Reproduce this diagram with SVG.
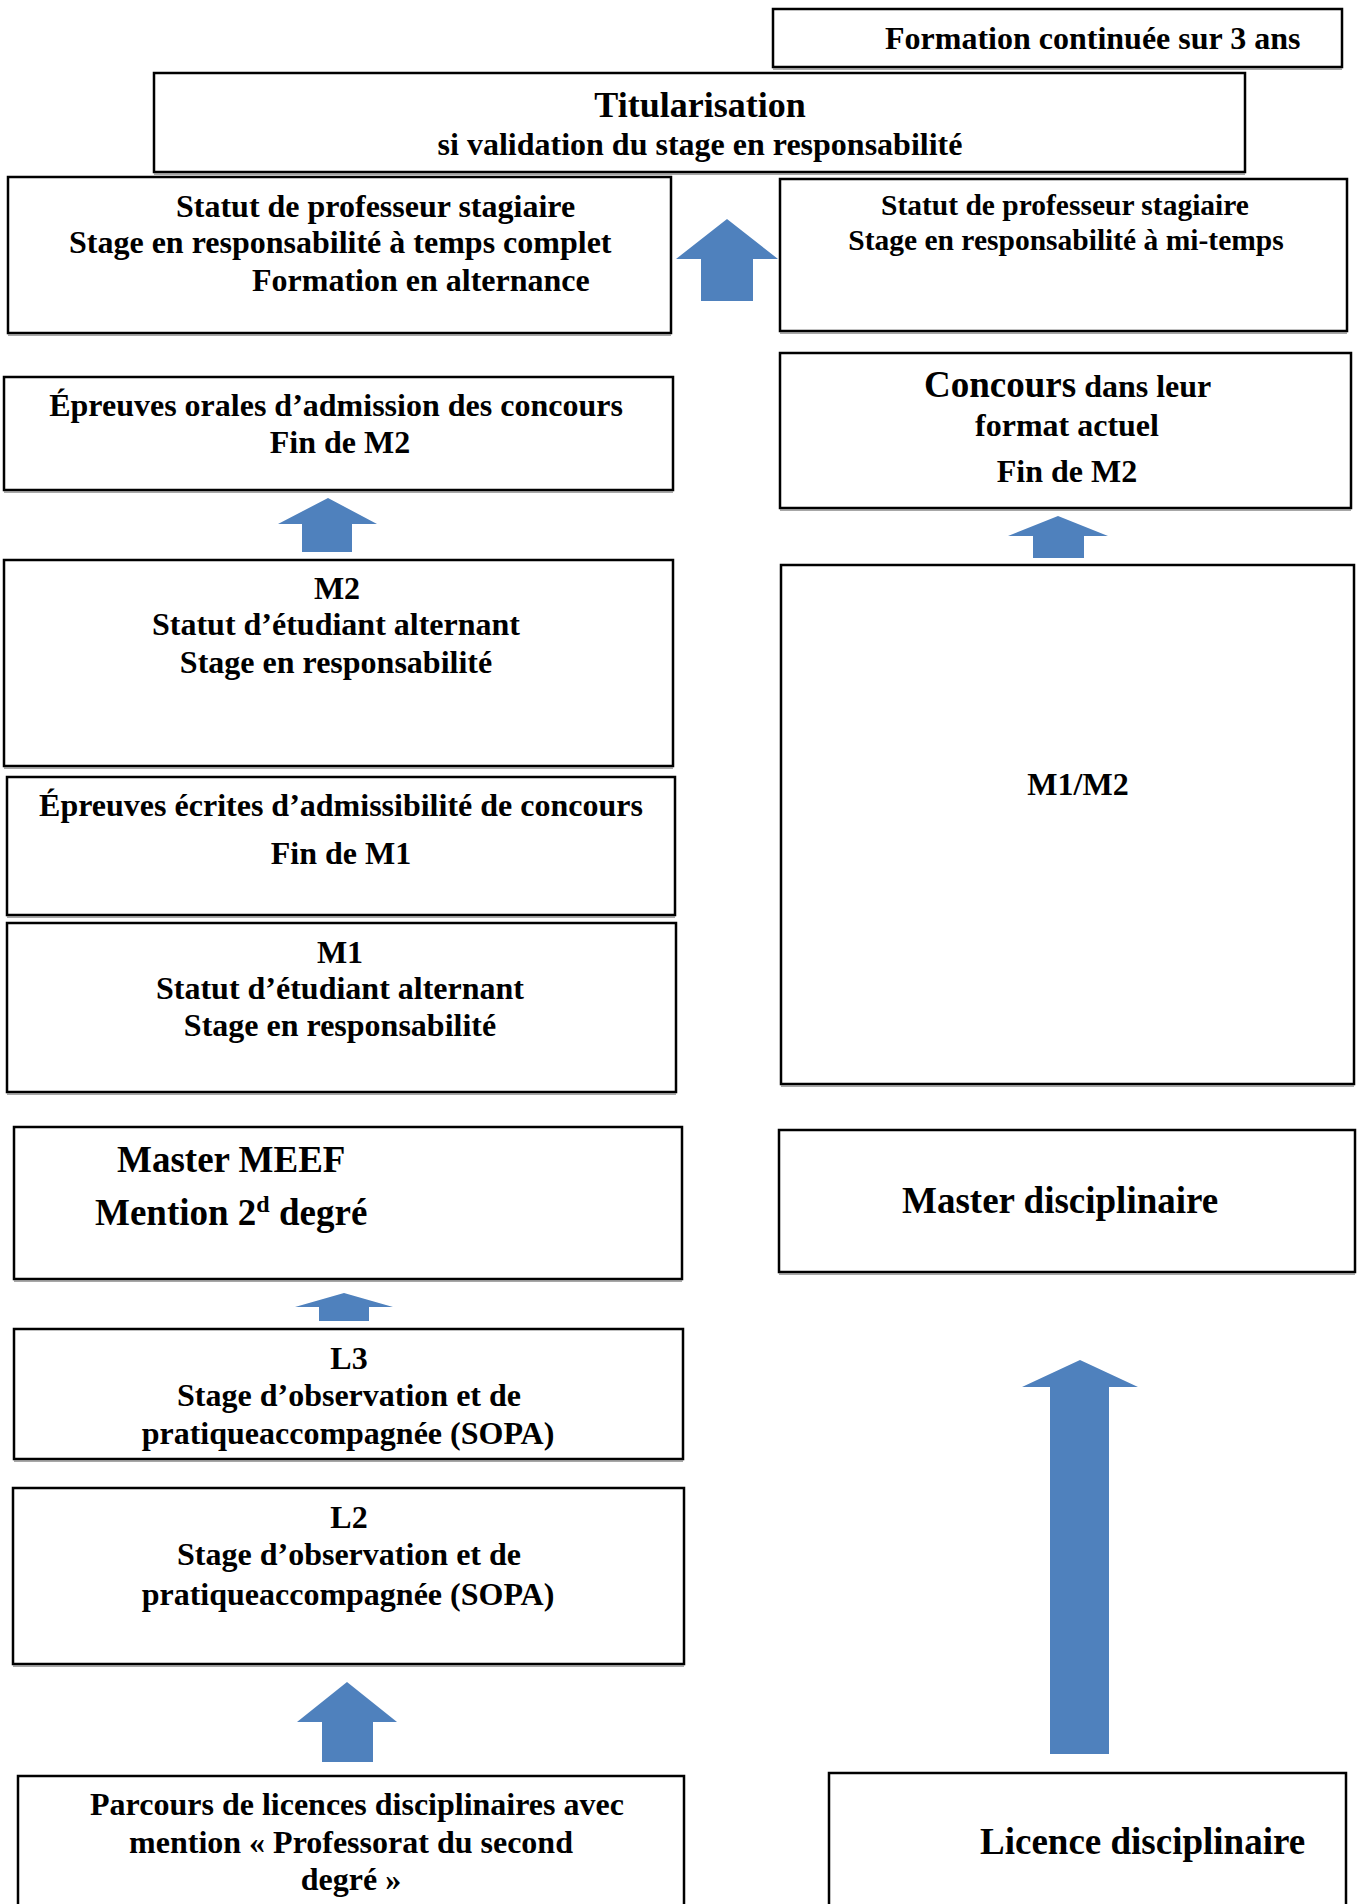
<svg xmlns="http://www.w3.org/2000/svg" width="1357" height="1904" viewBox="0 0 1357 1904">
  <style>
    .box { fill: #ffffff; stroke: #000000; stroke-width: 2.5; }
    .shade { stroke: #8a8a8a; stroke-width: 1.5; fill: none; }
    .t { font-family: "Liberation Serif", "Times New Roman", serif; font-weight: bold; font-size: 32px; fill: #000000; }
    .c { text-anchor: middle; }
    .big { font-size: 37px; }
    .arrow { fill: #4F81BD; }
  </style>
  <rect width="1357" height="1904" fill="#ffffff"/>

  <!-- block arrows -->
  <g id="connectors">
    <polygon class="arrow" points="727,219 778,259 753,259 753,301 701,301 701,259 676,259"/>
    <polygon class="arrow" points="328,498 377,524 352,524 352,552 302,552 302,524 278,524"/>
    <polygon class="arrow" points="1058,516 1108,536 1084,536 1084,558 1033,558 1033,536 1008,536"/>
    <polygon class="arrow" points="344,1293 393,1307 369,1307 369,1321 319,1321 319,1307 295,1307"/>
    <polygon class="arrow" points="1080,1360 1138,1387 1109,1387 1109,1754 1050,1754 1050,1387 1022,1387"/>
    <polygon class="arrow" points="347,1682 397,1722 373,1722 373,1762 322,1762 322,1722 297,1722"/>
  </g>

  <g id="formation-continuee">
    <rect class="box" x="773" y="9" width="569" height="58"/>
    <line class="shade" x1="773" y1="69" x2="1342" y2="69"/>
    <text class="t" x="885" y="49">Formation continuée sur 3 ans</text>
  </g>

  <g id="titularisation">
    <rect class="box" x="154" y="73" width="1091" height="99"/>
    <line class="shade" x1="154" y1="174" x2="1245" y2="174"/>
    <text class="t c" x="700" y="117" style="font-size:36px">Titularisation</text>
    <text class="t c" x="700" y="155">si validation du stage en responsabilité</text>
  </g>

  <g id="stagiaire-temps-complet">
    <rect class="box" x="8" y="177" width="663" height="156"/>
    <line class="shade" x1="8" y1="335" x2="671" y2="335"/>
    <text class="t" x="176" y="217">Statut de professeur stagiaire</text>
    <text class="t" x="69" y="253">Stage en responsabilité à temps complet</text>
    <text class="t" x="252" y="291">Formation en alternance</text>
  </g>

  <g id="stagiaire-mi-temps">
    <rect class="box" x="780" y="179" width="567" height="152"/>
    <line class="shade" x1="780" y1="333" x2="1347" y2="333"/>
    <text class="t c" x="1065" y="215" style="font-size:29.5px">Statut de professeur stagiaire</text>
    <text class="t c" x="1066" y="250" style="font-size:29.5px">Stage en responsabilité à mi-temps</text>
  </g>

  <g id="epreuves-orales">
    <rect class="box" x="4" y="377" width="669" height="113"/>
    <line class="shade" x1="4" y1="492" x2="673" y2="492"/>
    <text class="t c" x="336" y="416">Épreuves orales d’admission des concours</text>
    <text class="t c" x="340" y="453">Fin de M2</text>
  </g>

  <g id="concours-actuel">
    <rect class="box" x="780" y="353" width="571" height="155"/>
    <line class="shade" x1="780" y1="510" x2="1351" y2="510"/>
    <text class="t" x="924" y="397"><tspan class="big">Concours</tspan> dans leur</text>
    <text class="t c" x="1067" y="436">format actuel</text>
    <text class="t c" x="1067" y="482">Fin de M2</text>
  </g>

  <g id="m2">
    <rect class="box" x="4" y="560" width="669" height="206"/>
    <line class="shade" x1="4" y1="768" x2="673" y2="768"/>
    <text class="t c" x="337" y="599">M2</text>
    <text class="t c" x="336" y="635">Statut d’étudiant alternant</text>
    <text class="t c" x="336" y="673">Stage en responsabilité</text>
  </g>

  <g id="m1-m2">
    <rect class="box" x="781" y="565" width="573" height="519"/>
    <line class="shade" x1="781" y1="1086" x2="1354" y2="1086"/>
    <text class="t c" x="1078" y="795">M1/M2</text>
  </g>

  <g id="epreuves-ecrites">
    <rect class="box" x="7" y="777" width="668" height="138"/>
    <line class="shade" x1="7" y1="917" x2="675" y2="917"/>
    <text class="t c" x="341" y="816">Épreuves écrites d’admissibilité de concours</text>
    <text class="t c" x="341" y="864">Fin de M1</text>
  </g>

  <g id="m1">
    <rect class="box" x="7" y="923" width="669" height="169"/>
    <line class="shade" x1="7" y1="1094" x2="676" y2="1094"/>
    <text class="t c" x="340" y="963">M1</text>
    <text class="t c" x="340" y="999">Statut d’étudiant alternant</text>
    <text class="t c" x="340" y="1036">Stage en responsabilité</text>
  </g>

  <g id="master-meef">
    <rect class="box" x="14" y="1127" width="668" height="152"/>
    <line class="shade" x1="14" y1="1281" x2="682" y2="1281"/>
    <text class="t big" x="117" y="1172">Master MEEF</text>
    <text class="t big" x="95" y="1225">Mention 2<tspan dy="-13" style="font-size:24px">d</tspan><tspan dy="13"> degré</tspan></text>
  </g>

  <g id="master-disciplinaire">
    <rect class="box" x="779" y="1130" width="576" height="142"/>
    <line class="shade" x1="779" y1="1274" x2="1355" y2="1274"/>
    <text class="t big" x="902" y="1213">Master disciplinaire</text>
  </g>

  <g id="l3">
    <rect class="box" x="14" y="1329" width="669" height="130"/>
    <line class="shade" x1="14" y1="1461" x2="683" y2="1461"/>
    <text class="t c" x="349" y="1369">L3</text>
    <text class="t c" x="349" y="1406">Stage d’observation et de</text>
    <text class="t c" x="348" y="1444">pratiqueaccompagnée (SOPA)</text>
  </g>

  <g id="l2">
    <rect class="box" x="13" y="1488" width="671" height="176"/>
    <line class="shade" x1="13" y1="1666" x2="684" y2="1666"/>
    <text class="t c" x="349" y="1528">L2</text>
    <text class="t c" x="349" y="1565">Stage d’observation et de</text>
    <text class="t c" x="348" y="1605">pratiqueaccompagnée (SOPA)</text>
  </g>

  <g id="parcours-licences">
    <rect class="box" x="18" y="1776" width="666" height="140"/>
    <text class="t c" x="357" y="1815">Parcours de licences disciplinaires avec</text>
    <text class="t c" x="351" y="1853">mention « Professorat du second</text>
    <text class="t c" x="351" y="1890">degré »</text>
  </g>

  <g id="licence-disciplinaire">
    <rect class="box" x="829" y="1773" width="517" height="143"/>
    <text class="t big" x="980" y="1854">Licence disciplinaire</text>
  </g>
</svg>
